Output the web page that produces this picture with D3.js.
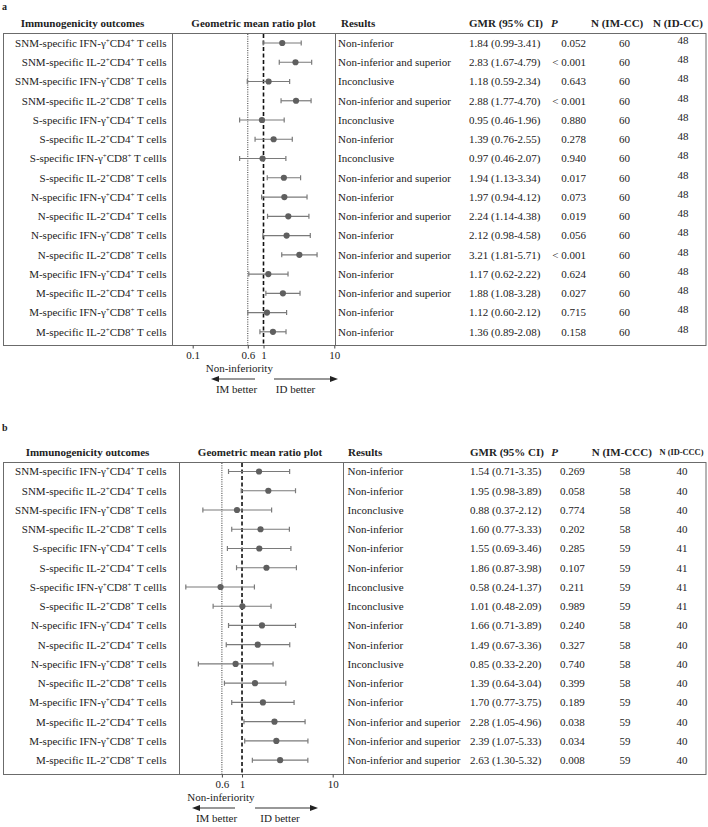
<!DOCTYPE html>
<html>
<head>
<meta charset="utf-8">
<script src="https://cdn.jsdelivr.net/npm/d3@7"></script>
<style>
  html, body { margin: 0; padding: 0; background: #fff; }
  svg { display: block; }
  text { font-family: "Liberation Serif", "Times New Roman", serif; fill: #222; }
</style>
</head>
<body>
<svg id="chart" width="708" height="827"></svg>
<script>
// ---------- DATA ----------
const outcomes = [
  "SNM-specific IFN-γ^+CD4^+ T cells",
  "SNM-specific IL-2^+CD4^+ T cells",
  "SNM-specific IFN-γ^+CD8^+ T cells",
  "SNM-specific IL-2^+CD8^+ T cells",
  "S-specific IFN-γ^+CD4^+ T cells",
  "S-specific IL-2^+CD4^+ T cells",
  "S-specific IFN-γ^+CD8^+ T cellls",
  "S-specific IL-2^+CD8^+ T cells",
  "N-specific IFN-γ^+CD4^+ T cells",
  "N-specific IL-2^+CD4^+ T cells",
  "N-specific IFN-γ^+CD8^+ T cells",
  "N-specific IL-2^+CD8^+ T cells",
  "M-specific IFN-γ^+CD4^+ T cells",
  "M-specific IL-2^+CD4^+ T cells",
  "M-specific IFN-γ^+CD8^+ T cells",
  "M-specific IL-2^+CD8^+ T cells"
];

// Panel a
const gmrA   = [1.84, 2.83, 1.18, 2.88, 0.95, 1.39, 0.97, 1.94, 1.97, 2.24, 2.12, 3.21, 1.17, 1.88, 1.12, 1.36];
const lowerA = [0.99, 1.67, 0.59, 1.77, 0.46, 0.76, 0.46, 1.13, 0.94, 1.14, 0.98, 1.81, 0.62, 1.08, 0.60, 0.89];
const upperA = [3.41, 4.79, 2.34, 4.70, 1.96, 2.55, 2.07, 3.34, 4.12, 4.38, 4.58, 5.71, 2.22, 3.28, 2.12, 2.08];
const resultsA = ["Non-inferior", "Non-inferior and superior", "Inconclusive", "Non-inferior and superior",
  "Inconclusive", "Non-inferior", "Inconclusive", "Non-inferior and superior",
  "Non-inferior", "Non-inferior and superior", "Non-inferior", "Non-inferior and superior",
  "Non-inferior", "Non-inferior and superior", "Non-inferior", "Non-inferior"];
const pA = ["0.052", "< 0.001", "0.643", "< 0.001", "0.880", "0.278", "0.940", "0.017",
  "0.073", "0.019", "0.056", "< 0.001", "0.624", "0.027", "0.715", "0.158"];
const nImA = [60, 60, 60, 60, 60, 60, 60, 60, 60, 60, 60, 60, 60, 60, 60, 60];
const nIdA = [48, 48, 48, 48, 48, 48, 48, 48, 48, 48, 48, 48, 48, 48, 48, 48];
const ticksA = [0.1, 0.6, 1, 10];
const headersA = ["Immunogenicity outcomes", "Geometric mean ratio plot", "Results", "GMR (95% CI)", "P", "N (IM-CC)", "N (ID-CC)"];

// Panel b
const gmrB   = [1.54, 1.95, 0.88, 1.60, 1.55, 1.86, 0.58, 1.01, 1.66, 1.49, 0.85, 1.39, 1.70, 2.28, 2.39, 2.63];
const lowerB = [0.71, 0.98, 0.37, 0.77, 0.69, 0.87, 0.24, 0.48, 0.71, 0.67, 0.33, 0.64, 0.77, 1.05, 1.07, 1.30];
const upperB = [3.35, 3.89, 2.12, 3.33, 3.46, 3.98, 1.37, 2.09, 3.89, 3.36, 2.20, 3.04, 3.75, 4.96, 5.33, 5.32];
const resultsB = ["Non-inferior", "Non-inferior", "Inconclusive", "Non-inferior",
  "Non-inferior", "Non-inferior", "Inconclusive", "Inconclusive",
  "Non-inferior", "Non-inferior", "Inconclusive", "Non-inferior",
  "Non-inferior", "Non-inferior and superior", "Non-inferior and superior", "Non-inferior and superior"];
const pB = ["0.269", "0.058", "0.774", "0.202", "0.285", "0.107", "0.211", "0.989",
  "0.240", "0.327", "0.740", "0.399", "0.189", "0.038", "0.034", "0.008"];
const nImB = [58, 58, 58, 58, 59, 59, 59, 59, 58, 58, 58, 58, 59, 59, 59, 59];
const nIdB = [40, 40, 40, 40, 41, 41, 41, 41, 40, 40, 40, 40, 40, 40, 40, 40];
const ticksB = [0.6, 1, 10];
const headersB = ["Immunogenicity outcomes", "Geometric mean ratio plot", "Results", "GMR (95% CI)", "P", "N (IM-CCC)", "N (ID-CCC)"];

const nonInferiorityMargin = 0.6;

// ---------- LAYOUT ----------
const svg = d3.select("#chart");

const panels = [
  {
    tag: "a", tagY: 6,
    headerY: 23, boxTop: 33, firstRow: 43, lastRow: 331.8, boxBottom: 345,
    labelColRight: 172, plotRight: 335,
    xRange: [192.7, 334.3], xDomain: [0.1, 10],
    ticks: ticksA, headers: headersA,
    gmr: gmrA, lo: lowerA, hi: upperA, res: resultsA, p: pA, nIm: nImA, nId: nIdA,
    hdrX: { out: 82.5, plot: 253.5, res: 341, gmr: 469, p: 551, nIm: 591, nId: 653 },
    colX: { res: 338, gmr: 469, p: 586, pAnchor: "end", nIm: 624.5, nId: 683 },
    nIdShift: -3,
    niOffset: -8.5,
    arrows: { lt: -8.5, lh: -52.5, rt: 10.5, rh: 74.5, imX: -27, idX: 32 }
  },
  {
    tag: "b", tagY: 427,
    headerY: 452, boxTop: 462, firstRow: 471.5, lastRow: 760.2, boxBottom: 774,
    labelColRight: 179, plotRight: 343,
    xRange: [221.9, 332.7], xDomain: [0.6, 10],
    ticks: ticksB, headers: headersB,
    gmr: gmrB, lo: lowerB, hi: upperB, res: resultsB, p: pB, nIm: nImB, nId: nIdB,
    hdrX: { out: 87.5, plot: 260, res: 348, gmr: 470, p: 551.3, nIm: 591.7, nId: 659.5 },
    colX: { res: 347.5, gmr: 470, p: 560, pAnchor: "start", nIm: 625, nId: 682 },
    nIdShift: 0,
    niOffset: -1,
    arrows: { lt: -7, lh: -50, rt: 13, rh: 76, imX: -25.5, idX: 38 }
  }
];

const FS = 11;
const RIGHT_LIMIT = 704;

function richText(sel, str) {
  const parts = str.split("^+");
  parts.forEach((part, i) => {
    if (i > 0) {
      sel.append("tspan").attr("dy", -4).attr("font-size", 7).text("+");
      sel.append("tspan").attr("dy", 4).text(part);
    } else {
      sel.append("tspan").text(part);
    }
  });
}

panels.forEach(P => {
  const g = svg.append("g");

  // panel tag
  g.append("text").attr("x", 2).attr("y", P.tagY).attr("dy", "0.35em")
    .attr("font-size", 10).attr("font-weight", "bold").text(P.tag);

  // scales
  const x = d3.scaleLog().domain(P.xDomain).range(P.xRange);
  const y = d3.scalePoint().domain(d3.range(outcomes.length)).range([P.firstRow, P.lastRow]);

  // headers
  const hy = P.headerY;
  const H = P.headers;
  const hdr = (txt, xx, anchor, italic) => g.append("text")
    .attr("x", xx).attr("y", hy).attr("dy", "0.35em")
    .attr("text-anchor", anchor).attr("font-size", FS).attr("font-weight", "bold")
    .attr("font-style", italic ? "italic" : null).text(txt);
  hdr(H[0], P.hdrX.out, "middle");
  hdr(H[1], P.hdrX.plot, "middle");
  hdr(H[2], P.hdrX.res, "start");
  hdr(H[3], P.hdrX.gmr, "start");
  hdr(H[4], P.hdrX.p, "start", true);
  hdr(H[5], P.hdrX.nIm, "start");
  const last = hdr(H[6], P.hdrX.nId, "start");
  const avail = RIGHT_LIMIT - P.hdrX.nId;
  const len = last.node().getComputedTextLength();
  if (len > avail) {
    last.attr("font-size", Math.floor(FS * avail / len * 10) / 10);
  }

  // box
  const boxStroke = "#6b6b6b";
  g.append("rect").attr("x", 3.5).attr("y", P.boxTop + 0.5)
    .attr("width", 706 - 3.5).attr("height", P.boxBottom - P.boxTop)
    .attr("fill", "none").attr("stroke", boxStroke).attr("stroke-width", 1);
  [P.labelColRight, P.plotRight].forEach(vx => {
    g.append("line").attr("x1", vx + 0.5).attr("x2", vx + 0.5)
      .attr("y1", P.boxTop).attr("y2", P.boxBottom)
      .attr("stroke", boxStroke).attr("stroke-width", 1);
  });

  // reference lines
  g.append("line").attr("x1", x(nonInferiorityMargin)).attr("x2", x(nonInferiorityMargin))
    .attr("y1", P.boxTop + 1).attr("y2", P.boxBottom)
    .attr("stroke", "#333").attr("stroke-width", 1).attr("stroke-dasharray", "1,1.3");
  g.append("line").attr("x1", x(1)).attr("x2", x(1))
    .attr("y1", P.boxTop + 1).attr("y2", P.boxBottom)
    .attr("stroke", "#111").attr("stroke-width", 1.6).attr("stroke-dasharray", "4,2.5");

  // axis
  const axis = d3.axisBottom(x).tickValues(P.ticks).tickSize(3).tickPadding(3)
    .tickFormat(d => String(d));
  const ag = g.append("g").attr("transform", `translate(0,${P.boxBottom + 0.5})`).call(axis);
  ag.select(".domain").remove();
  ag.selectAll(".tick line").attr("stroke", "#444");
  ag.selectAll(".tick text").attr("font-size", FS)
    .attr("font-family", '"Liberation Serif", "Times New Roman", serif').attr("fill", "#222");

  // rows
  const ciColor = "#7a7a7a";
  outcomes.forEach((lab, i) => {
    const yy = y(i);
    const t = g.append("text").attr("x", 166.5).attr("y", yy).attr("dy", "0.35em")
      .attr("text-anchor", "end").attr("font-size", FS);
    richText(t, lab);

    // CI
    g.append("line").attr("x1", x(P.lo[i])).attr("x2", x(P.hi[i]))
      .attr("y1", yy).attr("y2", yy).attr("stroke", ciColor).attr("stroke-width", 1.2);
    [P.lo[i], P.hi[i]].forEach(v => {
      g.append("line").attr("x1", x(v)).attr("x2", x(v))
        .attr("y1", yy - 2.5).attr("y2", yy + 2.5).attr("stroke", ciColor).attr("stroke-width", 1.2);
    });
    g.append("circle").attr("cx", x(P.gmr[i])).attr("cy", yy).attr("r", 3.1).attr("fill", "#5f5f5f");

    // table
    const cell = (txt, xx, anchor, dyShift) => g.append("text")
      .attr("x", xx).attr("y", yy + (dyShift || 0)).attr("dy", "0.35em")
      .attr("text-anchor", anchor).attr("font-size", FS).text(txt);
    cell(P.res[i], P.colX.res, "start");
    cell(`${P.gmr[i].toFixed(2)} (${P.lo[i].toFixed(2)}-${P.hi[i].toFixed(2)})`, P.colX.gmr, "start");
    cell(P.p[i], P.colX.p, P.colX.pAnchor);
    cell(P.nIm[i], P.colX.nIm, "middle");
    cell(P.nId[i], P.colX.nId, "middle", P.nIdShift);
  });

  // non-inferiority label and arrows
  const x1 = x(1);
  const base = P.boxBottom;
  g.append("text").attr("x", x(nonInferiorityMargin) + P.niOffset).attr("y", base + 23)
    .attr("dy", "0.35em").attr("text-anchor", "middle").attr("font-size", FS).text("Non-inferiority");

  const ay = base + 34;
  const A = P.arrows;
  const arrow = (tail, head) => {
    const dir = Math.sign(head - tail);
    g.append("line").attr("x1", tail).attr("x2", head - dir * 6)
      .attr("y1", ay).attr("y2", ay).attr("stroke", "#333").attr("stroke-width", 1.2);
    g.append("path")
      .attr("d", `M${head},${ay} L${head - dir * 8},${ay - 3} L${head - dir * 8},${ay + 3} Z`)
      .attr("fill", "#222");
  };
  arrow(x1 + A.lt, x1 + A.lh);
  arrow(x1 + A.rt, x1 + A.rh);

  g.append("text").attr("x", x1 + A.imX).attr("y", base + 44.5).attr("dy", "0.35em")
    .attr("text-anchor", "middle").attr("font-size", FS).text("IM better");
  g.append("text").attr("x", x1 + A.idX).attr("y", base + 44.5).attr("dy", "0.35em")
    .attr("text-anchor", "middle").attr("font-size", FS).text("ID better");
});
</script>
</body>
</html>
